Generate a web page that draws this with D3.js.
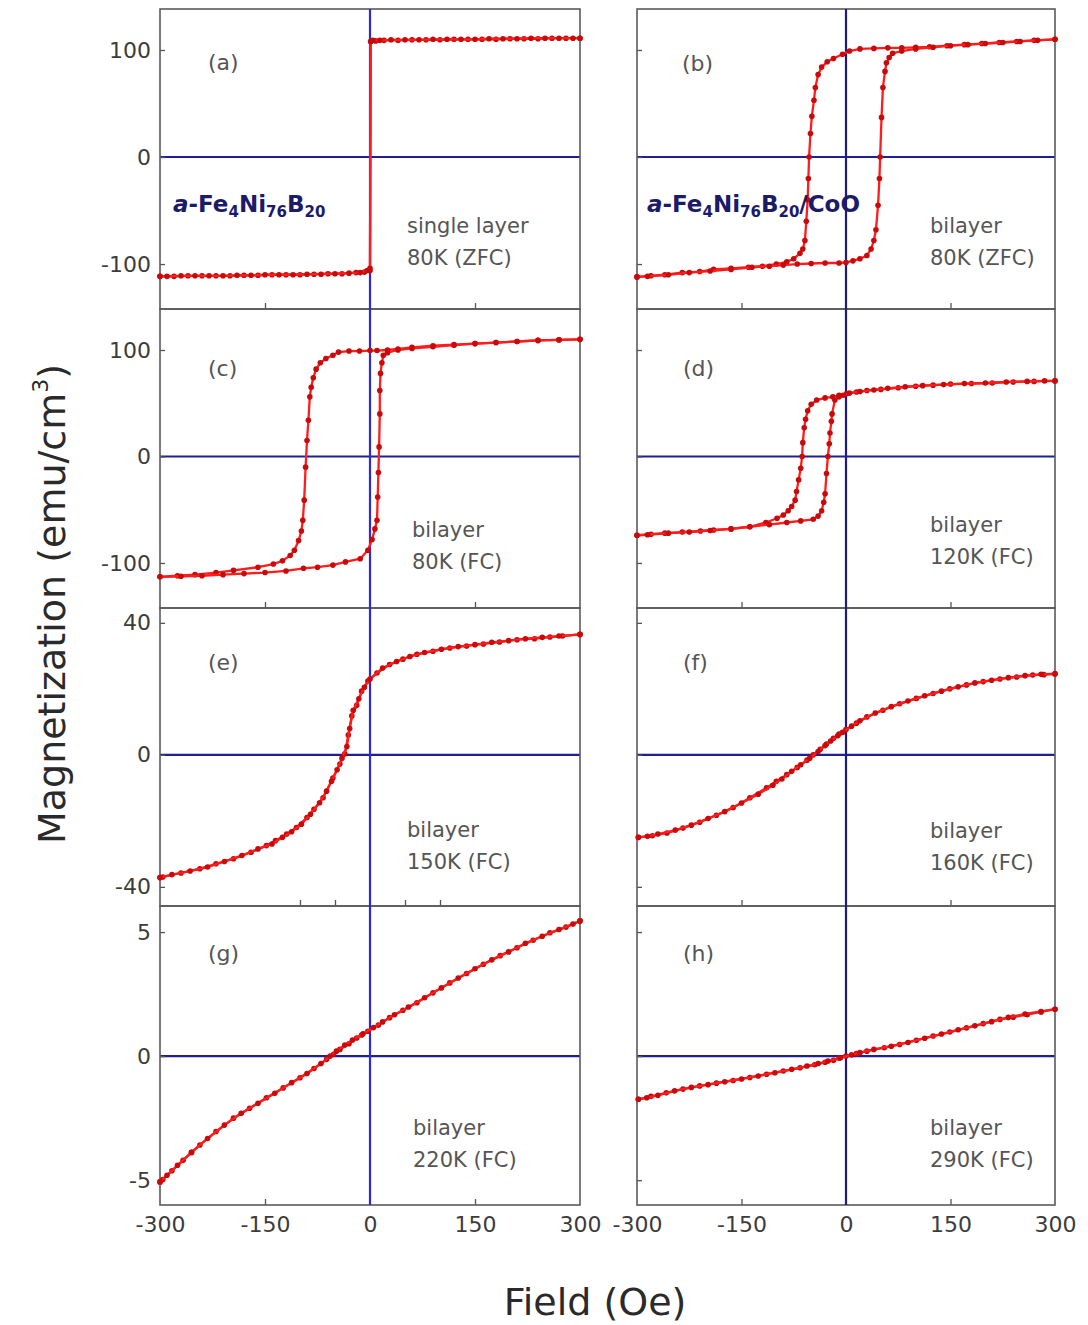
<!DOCTYPE html>
<html>
<head>
<meta charset="utf-8">
<script src="https://cdn.jsdelivr.net/npm/d3@7"></script>
<style>
  body { margin: 0; background: #fff; }
  svg { display: block; }
</style>
</head>
<body>
<svg id="chart" width="1088" height="1325"></svg>
<script>
// Field axis (Oe)
const fieldDomain = [-300, 300];
const fieldTickLabels = [-300, -150, 0, 150, 300];

// Magnetization axes per row (emu/cm3)
const rowDomains = [[-142, 138.3], [-142.3, 138.5], [-45.8, 44.5], [-6, 6.05]];
const rowTicks = [[-100, 0, 100], [-100, 0, 100], [-40, 0, 40], [-5, 0, 5]];

// Each branch: [field, magnetization]
const aDown = [[300,111],[280,111],[260,111],[240,110.5],[220,110.5],[200,110.5],[180,110],[160,110],[140,110],[120,110],[100,109.5],[80,109.5],[60,109.5],[40,109],[20,109],[8,108.5],[1,108],[0,-106],[-8,-107.5],[-20,-108],[-40,-109],[-60,-109],[-80,-109.5],[-100,-110],[-120,-110],[-140,-110],[-160,-110.5],[-180,-110.5],[-200,-111],[-220,-111],[-240,-111],[-260,-111],[-280,-111.5],[-300,-111.5]];
const aUp = [[-300,-111.5],[-290,-111.5],[-270,-111],[-250,-111],[-230,-111],[-210,-111],[-190,-110.5],[-170,-110.5],[-150,-110],[-130,-110],[-110,-110],[-90,-109.5],[-70,-109.5],[-50,-109],[-30,-108.5],[-14,-108],[-4,-106],[0,-104],[1,108],[4,109],[14,109],[30,109.5],[50,109.5],[70,109.5],[90,110],[110,110],[130,110],[150,110],[170,110.5],[190,110.5],[210,110.5],[230,111],[250,111],[270,111],[290,111],[300,111]];

const bDown = [[300,110],[270,109],[245,108],[220,107],[195,106],[170,105],[145,104],[120,103],[100,102.5],[80,102],[60,102],[40,101.5],[20,101],[5,99],[-5,96],[-18,92],[-27,89],[-35,84],[-40,77],[-44,65],[-46,53],[-49,38],[-51,22],[-53,0],[-54,-20],[-55,-40],[-57,-60],[-59,-78],[-62,-86],[-66,-90],[-75,-95],[-85,-98],[-100,-100],[-120,-102],[-140,-103],[-165,-104],[-190,-105],[-210,-107],[-235,-108],[-260,-110],[-280,-111],[-300,-112]];
const bUp = [[-300,-112],[-285,-111.5],[-255,-110],[-225,-108],[-195,-106.5],[-165,-105],[-135,-103],[-110,-102],[-90,-101],[-70,-100],[-50,-99.5],[-30,-99],[-10,-99],[0,-98.5],[10,-97],[20,-95],[30,-92],[36,-86],[40,-78],[43,-68],[46,-45],[48,-20],[49,0],[51,37],[53,65],[56,80],[58,88],[62,93],[67,97],[80,99],[100,101],[125,102.5],[150,104],[175,105],[200,106],[225,107],[250,108],[275,109],[300,110]];

const cDown = [[300,110],[270,109.5],[240,109],[210,108],[180,107],[150,106],[120,105],[90,104],[60,102.5],[40,101],[25,100],[10,99.5],[0,99.5],[-15,99],[-30,99],[-45,98],[-53,95],[-63,92],[-71,88],[-77,82],[-81,74],[-84,65],[-86,56],[-88,34],[-90,15],[-92,-10],[-94,-41],[-96,-60],[-98,-70],[-102,-79],[-108,-88],[-114,-93],[-125,-98],[-138,-101],[-160,-104],[-195,-107],[-220,-109],[-250,-111],[-275,-112],[-300,-113]];
const cUp = [[-300,-113],[-270,-112.5],[-240,-112],[-210,-111],[-180,-110],[-150,-109],[-120,-107.5],[-95,-105],[-75,-104],[-53,-102],[-35,-99],[-14,-96],[-3,-88],[3,-78],[7,-68],[10,-60],[11,-38],[12,-15],[13,9],[14,40],[14,62],[15,78],[17,88],[19,95],[25,97.5],[40,100],[60,101.5],[90,103],[120,104.5],[150,106],[180,107],[210,108],[240,109],[270,109.5],[300,110]];

const dDown = [[300,71],[270,70.5],[240,70],[210,69],[180,68.5],[150,68],[125,67],[100,66],[75,64.5],[50,63],[30,62],[15,60.5],[1,59],[-10,57.5],[-19,56],[-30,55],[-42,53],[-50,49],[-55,43],[-58,35],[-60,27],[-62,13],[-63,0],[-65,-11],[-68,-22],[-71,-33],[-73,-41],[-78,-47],[-83,-51],[-90,-55],[-99,-58],[-115,-62],[-138,-66],[-165,-68],[-190,-69],[-209,-70],[-235,-71],[-260,-72],[-280,-73],[-300,-74]];
const dUp = [[-300,-74],[-285,-73.5],[-255,-72],[-225,-71],[-195,-69.5],[-165,-68],[-138,-66],[-110,-64],[-85,-62],[-65,-60.5],[-47,-59],[-40,-56],[-35,-51],[-32,-43],[-30,-35],[-28,-16],[-26,0],[-24,12],[-23,22],[-21,33],[-20,40],[-16,53],[-10,56],[-4,57.5],[5,59.5],[20,61],[40,62.5],[60,64],[85,65.5],[110,66.5],[140,67.5],[170,68.5],[200,69],[230,70],[260,70.5],[285,71],[300,71]];

const eDown = [[300,36.5],[275,36],[257,35.7],[235,35.2],[210,34.9],[185,34.2],[162,33.6],[138,33],[114,32.4],[90,31.4],[67,30.5],[47,29],[28,27.4],[10,24.8],[-3,22.4],[-12,19.3],[-19,15],[-26,11.8],[-31,6],[-36,0.3],[-43,-2.8],[-53,-7],[-67,-13],[-80,-16.5],[-90,-19],[-105,-22],[-119,-24],[-135,-26],[-148,-27.5],[-170,-29.5],[-195,-31.5],[-220,-33],[-243,-34.5],[-270,-35.8],[-296,-37],[-300,-37.2]];
const eUp = [[-300,-37.2],[-283,-36.3],[-257,-35.2],[-232,-34],[-208,-32.3],[-183,-30.5],[-160,-28.5],[-140,-27],[-125,-25],[-112,-23.3],[-98,-21],[-85,-18],[-72,-14.5],[-62,-11],[-55,-8],[-47,-4.5],[-40,-1],[-33,2.5],[-29,8],[-24,13.5],[-16,17],[-8,20.5],[0,23],[18,26.3],[38,28.3],[57,29.8],[78,31],[102,32],[126,32.8],[150,33.4],[174,34.1],[198,34.6],[222,35.2],[246,35.6],[270,36],[300,36.5]];

const fDown = [[300,24.5],[284,24.3],[268,24.2],[245,23.6],[221,23],[197,22.2],[173,21.2],[149,20],[125,18.6],[101,17.1],[77,15.5],[53,13.5],[30,11.5],[15,9.6],[0,7.7],[-10,6.3],[-18,5],[-28,3.3],[-37,1.7],[-47,0],[-56,-1.6],[-70,-3.8],[-85,-6],[-100,-8],[-114,-10],[-138,-13],[-162,-16],[-186,-18.3],[-210,-20.4],[-234,-22.2],[-257,-23.7],[-278,-24.5],[-298,-25]];
const fUp = [[-298,-25],[-285,-24.7],[-270,-24],[-245,-22.8],[-222,-21.3],[-198,-19.3],[-174,-17.2],[-150,-14.6],[-126,-11.9],[-105,-9.2],[-92,-7.3],[-78,-5],[-65,-3],[-52,-1],[-40,1],[-30,2.8],[-22,4.2],[-12,5.8],[-5,6.8],[8,8.7],[20,10.3],[42,12.7],[65,14.6],[89,16.3],[113,17.9],[137,19.3],[161,20.6],[185,21.8],[209,22.6],[233,23.4],[257,24],[280,24.4],[300,24.6]];

const gDown = [[300,5.45],[280,5.2],[257,4.97],[233,4.67],[210,4.37],[186,4.05],[162,3.7],[138,3.33],[114,2.95],[90,2.55],[67,2.15],[47,1.85],[28,1.55],[12,1.25],[-3,1.0],[-12,0.85],[-19,0.73],[-30,0.5],[-43,0.27],[-52,0.07],[-62,-0.13],[-80,-0.5],[-100,-0.87],[-124,-1.28],[-148,-1.68],[-172,-2.1],[-195,-2.5],[-220,-3.04],[-243,-3.58],[-255,-3.88],[-267,-4.2],[-283,-4.62],[-296,-4.97],[-300,-5.07]];
const gUp = [[-300,-5.07],[-290,-4.8],[-275,-4.4],[-255,-3.88],[-232,-3.32],[-208,-2.78],[-184,-2.3],[-160,-1.9],[-136,-1.5],[-112,-1.07],[-90,-0.7],[-70,-0.3],[-57,0],[-48,0.2],[-36,0.45],[-25,0.65],[-10,0.9],[5,1.15],[18,1.38],[35,1.67],[55,1.98],[78,2.35],[102,2.75],[126,3.15],[150,3.52],[174,3.88],[198,4.2],[222,4.55],[246,4.83],[270,5.1],[290,5.32],[300,5.45]];

const hDown = [[300,1.89],[280,1.78],[260,1.67],[240,1.57],[221,1.48],[197,1.31],[173,1.14],[149,0.97],[125,0.81],[101,0.64],[77,0.47],[55,0.34],[30,0.2],[15,0.1],[0,0],[-10,-0.08],[-18,-0.17],[-30,-0.25],[-45,-0.35],[-66,-0.47],[-90,-0.6],[-114,-0.73],[-138,-0.86],[-162,-0.98],[-186,-1.09],[-210,-1.2],[-234,-1.33],[-258,-1.48],[-280,-1.62],[-298,-1.74]];
const hUp = [[-298,-1.74],[-286,-1.68],[-270,-1.58],[-246,-1.4],[-222,-1.26],[-198,-1.15],[-174,-1.03],[-150,-0.92],[-126,-0.8],[-102,-0.67],[-78,-0.53],[-56,-0.4],[-40,-0.3],[-26,-0.2],[-8,-0.07],[8,0.05],[20,0.14],[40,0.27],[65,0.4],[89,0.55],[113,0.72],[137,0.89],[161,1.06],[185,1.22],[209,1.39],[233,1.56],[257,1.7],[280,1.8],[300,1.89]];

// Panel texts
const panelLetters = ['(a)', '(b)', '(c)', '(d)', '(e)', '(f)', '(g)', '(h)'];
const panelNotes = [
  ['single layer', '80K (ZFC)'], ['bilayer', '80K (ZFC)'],
  ['bilayer', '80K (FC)'], ['bilayer', '120K (FC)'],
  ['bilayer', '150K (FC)'], ['bilayer', '160K (FC)'],
  ['bilayer', '220K (FC)'], ['bilayer', '290K (FC)']
];
const innerFieldTicks = [[-150, 150], [-150, 150], [-150, 150], [-150, 150],
  [-100, -50, 50, 100], [-150, 150], [-150, 150], [-150, 150]];
const branches = [[aDown, aUp], [bDown, bUp], [cDown, cUp], [dDown, dUp],
  [eDown, eUp], [fDown, fUp], [gDown, gUp], [hDown, hUp]];

// Layout
const colX = [[160, 580], [637, 1055]];
const rowY = [[9, 309], [309, 608], [608, 906], [906, 1205]];
const letterOffset = [[48, 53], [45, 54], [48, 59], [46, 59], [48, 54], [46, 54], [48, 47], [46, 47]];
const noteOffset = [[247, 224], [293, 224], [252, 228], [293, 223], [247, 229], [293, 230], [253, 229], [293, 229]];

const svg = d3.select('#chart');
const font = 'DejaVu Sans, Liberation Sans, Arial, sans-serif';
const plain = d => String(d);   // hyphen minus, like the original

branches.forEach((pair, i) => {
  const col = i % 2, row = Math.floor(i / 2);
  const x = d3.scaleLinear().domain(fieldDomain).range(colX[col]);
  const y = d3.scaleLinear().domain(rowDomains[row]).range([rowY[row][1], rowY[row][0]]);
  const g = svg.append('g');

  // horizontal zero line
  g.append('line')
    .attr('x1', x(-300)).attr('x2', x(300))
    .attr('y1', y(0)).attr('y2', y(0))
    .attr('stroke', '#1f1f96').attr('stroke-width', 2.2);

  // inner ticks on the left
  const yAxis = d3.axisLeft(y).tickValues(rowTicks[row]).tickSize(-5).tickPadding(9)
    .tickFormat(col === 1 ? '' : plain);
  const ya = g.append('g').attr('transform', `translate(${x(-300)},0)`).call(yAxis);
  ya.select('.domain').remove();
  ya.selectAll('line').attr('stroke', '#555').attr('stroke-width', 1.3);
  ya.selectAll('text').attr('font-family', font).attr('font-size', 22).attr('fill', '#3c3c3c');

  // inner ticks on the bottom
  const xa = g.append('g').attr('transform', `translate(0,${y.range()[0]})`)
    .call(d3.axisBottom(x).tickValues(innerFieldTicks[i]).tickSize(-6).tickFormat(''));
  xa.select('.domain').remove();
  xa.selectAll('line').attr('stroke', '#555').attr('stroke-width', 1.3);

  // field tick labels on the last row
  if (row === 3) {
    const xl = g.append('g').attr('transform', `translate(0,${y.range()[0]})`)
      .call(d3.axisBottom(x).tickValues(fieldTickLabels).tickSize(0).tickPadding(11).tickFormat(plain));
    xl.select('.domain').remove();
    xl.selectAll('text').attr('font-family', font).attr('font-size', 22).attr('fill', '#3c3c3c');
  }

  // frame
  g.append('rect')
    .attr('x', x(-300)).attr('y', y.range()[1])
    .attr('width', x(300) - x(-300)).attr('height', y.range()[0] - y.range()[1])
    .attr('fill', 'none').attr('stroke', '#5a5a5a').attr('stroke-width', 1.6);

  // panel letter and notes
  g.append('text')
    .attr('x', x(-300) + letterOffset[i][0]).attr('y', y.range()[1] + letterOffset[i][1])
    .attr('dominant-baseline', 'central')
    .attr('font-family', font).attr('font-size', 22).attr('fill', '#555')
    .text(panelLetters[i]);
  panelNotes[i].forEach((s, k) => {
    g.append('text')
      .attr('x', x(-300) + noteOffset[i][0]).attr('y', y.range()[1] + noteOffset[i][1] + k * 32)
      .attr('font-family', font).attr('font-size', 21).attr('fill', '#555')
      .text(s);
  });
});

// vertical zero lines through each column
[0, 1].forEach(col => {
  const x = d3.scaleLinear().domain(fieldDomain).range(colX[col]);
  svg.append('line')
    .attr('x1', x(0)).attr('x2', x(0))
    .attr('y1', rowY[0][0]).attr('y2', rowY[3][1])
    .attr('stroke', col === 0 ? '#2b2bd8' : '#1c1c84').attr('stroke-width', 2.2);
});

// data
branches.forEach((pair, i) => {
  const col = i % 2, row = Math.floor(i / 2);
  const x = d3.scaleLinear().domain(fieldDomain).range(colX[col]);
  const y = d3.scaleLinear().domain(rowDomains[row]).range([rowY[row][1], rowY[row][0]]);
  const line = d3.line().x(d => x(d[0])).y(d => y(d[1]));
  pair.forEach(branch => {
    svg.append('path').datum(branch)
      .attr('d', line).attr('fill', 'none')
      .attr('stroke', '#ff1c1c').attr('stroke-width', 2.3);
    svg.append('g').selectAll('circle').data(branch).join('circle')
      .attr('cx', d => x(d[0])).attr('cy', d => y(d[1]))
      .attr('r', 2.8).attr('fill', '#c80a0a');
  });
});

// composition labels
function formula(px, py, parts) {
  const t = svg.append('text').attr('x', px).attr('y', py)
    .attr('font-family', font).attr('font-weight', 'bold')
    .attr('font-size', 23).attr('fill', '#1b1b6a');
  let shifted = false;
  parts.forEach(([s, kind]) => {
    const ts = t.append('tspan').text(s);
    if (kind === 'sub') {
      ts.attr('font-size', 15).attr('dy', shifted ? 0 : 5);
      shifted = true;
    } else {
      if (shifted) ts.attr('dy', -5);
      shifted = false;
      if (kind === 'it') ts.attr('font-style', 'italic');
    }
  });
}
const alloyParts = [['a', 'it'], ['-Fe', ''], ['4', 'sub'], ['Ni', ''], ['76', 'sub'], ['B', ''], ['20', 'sub']];
formula(173, 212, alloyParts);
formula(647, 212, alloyParts.concat([['/CoO', '']]));

// axis titles
svg.append('text')
  .attr('transform', 'translate(65,604) rotate(-90)')
  .attr('text-anchor', 'middle')
  .attr('font-family', font).attr('font-size', 38).attr('fill', '#2a2a2a')
  .call(t => {
    t.append('tspan').text('Magnetization (emu/cm');
    t.append('tspan').text('3').attr('font-size', 22).attr('dy', -17);
    t.append('tspan').text(')').attr('dy', 17);
  });

svg.append('text')
  .attr('x', 595).attr('y', 1315)
  .attr('text-anchor', 'middle')
  .attr('font-family', font).attr('font-size', 38).attr('fill', '#2a2a2a')
  .text('Field (Oe)');
</script>
</body>
</html>
